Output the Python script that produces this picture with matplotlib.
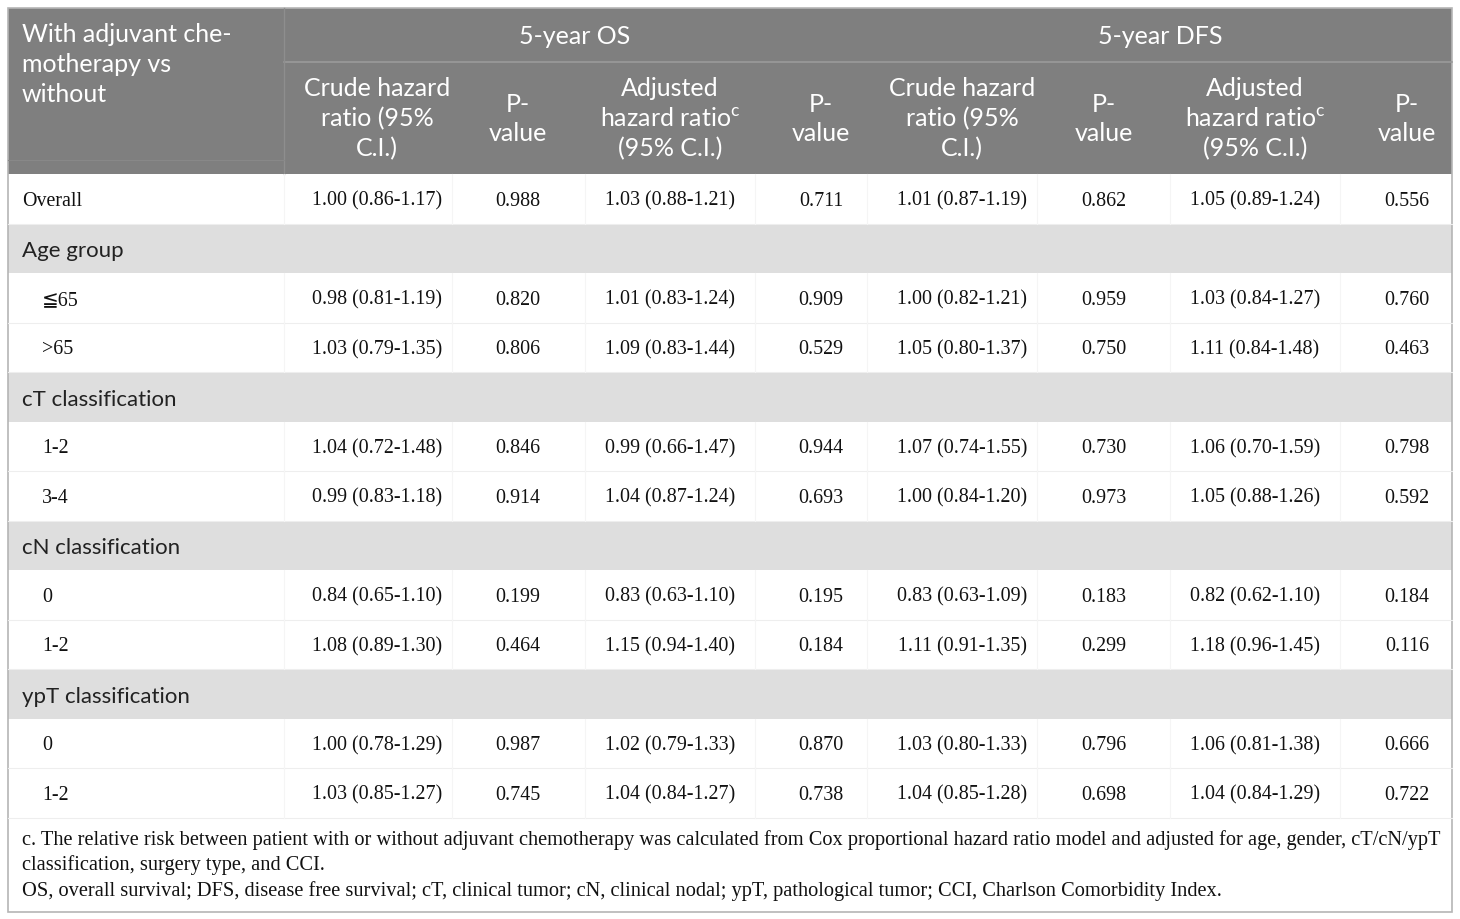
import matplotlib.pyplot as plt
from matplotlib.patches import Rectangle

plt.rcParams['mathtext.fontset'] = 'custom'
plt.rcParams['mathtext.rm'] = 'Lato'

# table content
row_labels = ['Overall', 'Age group', '≦65', '>65', 'cT classification', '1-2', '3-4',
              'cN classification', '0', '1-2', 'ypT classification', '0', '1-2']
is_group = [False, True, False, False, True, False, False, True, False, False, True, False, False]

os_crude = ['1.00 (0.86-1.17)', '', '0.98 (0.81-1.19)', '1.03 (0.79-1.35)', '', '1.04 (0.72-1.48)',
            '0.99 (0.83-1.18)', '', '0.84 (0.65-1.10)', '1.08 (0.89-1.30)', '', '1.00 (0.78-1.29)',
            '1.03 (0.85-1.27)']
os_crude_p = ['0.988', '', '0.820', '0.806', '', '0.846', '0.914', '', '0.199', '0.464', '', '0.987', '0.745']
os_adj = ['1.03 (0.88-1.21)', '', '1.01 (0.83-1.24)', '1.09 (0.83-1.44)', '', '0.99 (0.66-1.47)',
          '1.04 (0.87-1.24)', '', '0.83 (0.63-1.10)', '1.15 (0.94-1.40)', '', '1.02 (0.79-1.33)',
          '1.04 (0.84-1.27)']
os_adj_p = ['0.711', '', '0.909', '0.529', '', '0.944', '0.693', '', '0.195', '0.184', '', '0.870', '0.738']
dfs_crude = ['1.01 (0.87-1.19)', '', '1.00 (0.82-1.21)', '1.05 (0.80-1.37)', '', '1.07 (0.74-1.55)',
             '1.00 (0.84-1.20)', '', '0.83 (0.63-1.09)', '1.11 (0.91-1.35)', '', '1.03 (0.80-1.33)',
             '1.04 (0.85-1.28)']
dfs_crude_p = ['0.862', '', '0.959', '0.750', '', '0.730', '0.973', '', '0.183', '0.299', '', '0.796', '0.698']
dfs_adj = ['1.05 (0.89-1.24)', '', '1.03 (0.84-1.27)', '1.11 (0.84-1.48)', '', '1.06 (0.70-1.59)',
           '1.05 (0.88-1.26)', '', '0.82 (0.62-1.10)', '1.18 (0.96-1.45)', '', '1.06 (0.81-1.38)',
           '1.04 (0.84-1.29)']
dfs_adj_p = ['0.556', '', '0.760', '0.463', '', '0.798', '0.592', '', '0.184', '0.116', '', '0.666', '0.722']

sub_headers = ['Crude hazard\nratio (95%\nC.I.)', 'P-\nvalue',
               'Adjusted\nhazard ratio$^{\\mathrm{c}}$\n(95% C.I.)', 'P-\nvalue',
               'Crude hazard\nratio (95%\nC.I.)', 'P-\nvalue',
               'Adjusted\nhazard ratio$^{\\mathrm{c}}$\n(95% C.I.)', 'P-\nvalue']
footnotes = ['c. The relative risk between patient with or without adjuvant chemotherapy was calculated from Cox proportional hazard ratio model and adjusted for age, gender, cT/cN/ypT',
             'classification, surgery type, and CCI.',
             'OS, overall survival; DFS, disease free survival; cT, clinical tumor; cN, clinical nodal; ypT, pathological tumor; CCI, Charlson Comorbidity Index.']

columns = [os_crude, os_crude_p, os_adj, os_adj_p, dfs_crude, dfs_crude_p, dfs_adj, dfs_adj_p]

# layout in pixels
W, H = 1460, 919
left, right, top, bottom = 8, 1452, 8, 912
col_edges = [8, 284, 452, 585, 755, 867, 1037, 1170, 1340, 1452]
col_centers = [377, 518, 670, 821, 962, 1104, 1255, 1407]
head_mid = 62
head_bot = 174
row_h = 49.5
hdr_gray = '#7f7f7f'
grp_gray = '#dedede'

fig = plt.figure(figsize=(W / 100, H / 100), dpi=100)
ax = fig.add_axes([0, 0, 1, 1])
ax.set_xlim(0, W)
ax.set_ylim(H, 0)
ax.axis('off')

# header block
ax.add_patch(Rectangle((left, top), right - left, head_bot - top, color=hdr_gray, lw=0))
ax.plot([284, right], [head_mid, head_mid], color='#9a9a9a', lw=1.2)
ax.plot([284, 284], [top, head_bot], color='#8e8e8e', lw=1.0)
ax.plot([left, 284], [160, 160], color='#888888', lw=0.8)

ax.text(22, 23, 'With adjuvant che-\nmotherapy vs\nwithout', color='white', family='Lato',
        fontsize=18, va='top', ha='left', linespacing=1.36)
ax.text(575, 36, '5-year OS', color='white', family='Lato', fontsize=18, ha='center', va='center')
ax.text(1160, 36, '5-year DFS', color='white', family='Lato', fontsize=18, ha='center', va='center')
for cx, lab in zip(col_centers, sub_headers):
    ax.text(cx, 119, lab, color='white', family='Lato', fontsize=18, ha='center', va='center',
            linespacing=1.36, multialignment='center')

# body rows
for i, lab in enumerate(row_labels):
    y0 = head_bot + i * row_h
    yc = y0 + row_h / 2 + 2.5
    if is_group[i]:
        ax.add_patch(Rectangle((left, y0), right - left, row_h, color=grp_gray, lw=0))
        ax.text(22, yc + 0.5, lab, family='Lato', fontsize=16, color='#222222', va='center', ha='left')
        continue
    ax.plot([left, right], [y0 + row_h, y0 + row_h], color='#eeeeee', lw=0.8)
    for xe in col_edges[1:-1]:
        ax.plot([xe, xe], [y0, y0 + row_h], color='#f5f5f5', lw=0.8)
    x_lab = 22 if lab == 'Overall' else 42
    ax.text(x_lab, yc, lab, family=['Liberation Serif', 'DejaVu Serif', 'DejaVu Sans'],
            fontsize=14.4, color='#111111', va='center', ha='left')
    for cx, col in zip(col_centers, columns):
        ax.text(cx, yc, col[i], family='Liberation Serif', fontsize=14.4, color='#111111',
                va='center', ha='center')

# footnotes
for k, line in enumerate(footnotes):
    ax.text(22, 840 + k * 25.5, line, family='Liberation Serif', fontsize=14.65, color='#111111',
            va='center', ha='left')

# outer border
ax.add_patch(Rectangle((left, top), right - left, bottom - top, fill=False, ec='#b5b5b5', lw=1.2))

fig.savefig('out.png', dpi=100)
